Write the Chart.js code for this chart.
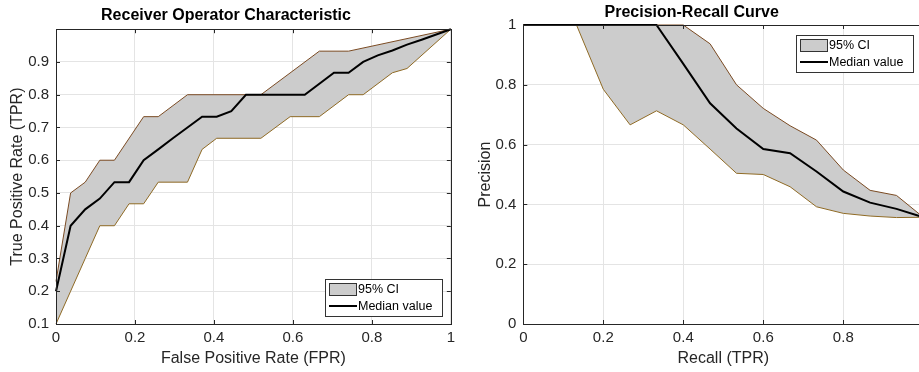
<!DOCTYPE html>
<html>
<head>
<meta charset="utf-8">
<script src="https://cdn.jsdelivr.net/npm/chart.js@4.4.1/dist/chart.umd.min.js"></script>
<style>
    html, body { margin: 0; padding: 0; background: #fff; overflow: hidden; }
    #wrap { position: relative; width: 919px; height: 372px; overflow: hidden; }
    #rocChart { position: absolute; left: 0; top: 0; }
    #prChart { position: absolute; left: 460px; top: 0; }
</style>
</head>
<body>
<div id="wrap">
    <canvas id="rocChart" width="460" height="372"></canvas>
    <canvas id="prChart" width="470" height="372"></canvas>
</div>
<script>
// ROC curve - upper / lower bound of the 95% CI and the median
const rocFprUpper = [0, 0.037, 0.074, 0.111, 0.148, 0.222, 0.259, 0.333, 0.519, 0.667, 0.741, 1];
const rocTprUpper = [0.23, 0.5, 0.533, 0.6, 0.6, 0.733, 0.733, 0.8, 0.8, 0.933, 0.933, 1];
const rocFprLower = [0, 0.037, 0.074, 0.111, 0.148, 0.185, 0.222, 0.259, 0.333, 0.370, 0.407, 0.519, 0.593, 0.667, 0.741, 0.778, 0.852, 0.889, 1];
const rocTprLower = [0.1, 0.2, 0.3, 0.4, 0.4, 0.467, 0.467, 0.533, 0.533, 0.633, 0.667, 0.667, 0.733, 0.733, 0.8, 0.8, 0.867, 0.88, 1];
const rocFprMedian = [0, 0.037, 0.074, 0.111, 0.148, 0.185, 0.222, 0.259, 0.296, 0.333, 0.370, 0.407, 0.444, 0.481, 0.630, 0.704, 0.741, 0.778, 0.815, 0.852, 0.889, 0.926, 1];
const rocTprMedian = [0.2, 0.4, 0.45, 0.483, 0.533, 0.533, 0.6, 0.633, 0.667, 0.7, 0.733, 0.733, 0.75, 0.8, 0.8, 0.867, 0.867, 0.9, 0.92, 0.935, 0.953, 0.968, 1];

// Precision-recall curve, all three series share the recall grid
const prRecall = [0, 0.067, 0.133, 0.2, 0.267, 0.333, 0.4, 0.467, 0.533, 0.6, 0.667, 0.733, 0.8, 0.867, 0.933, 1];
const prUpper = [1, 1, 1, 1, 1, 1, 1, 0.937, 0.8, 0.721, 0.663, 0.615, 0.515, 0.447, 0.43, 0.357];
const prMedian = [1, 1, 1, 1, 1, 1, 0.87, 0.738, 0.654, 0.585, 0.571, 0.51, 0.443, 0.406, 0.385, 0.357];
const prLower = [1, 1, 1, 0.785, 0.666, 0.713, 0.666, 0.585, 0.504, 0.5, 0.459, 0.392, 0.37, 0.361, 0.356, 0.357];

// Tick labels (the PR plot is cut off just before recall = 1)
const rocXTicks = [0, 0.2, 0.4, 0.6, 0.8, 1];
const rocYTicks = [0.1, 0.2, 0.3, 0.4, 0.5, 0.6, 0.7, 0.8, 0.9];
const prXTicks = [0, 0.2, 0.4, 0.6, 0.8];
const prYTicks = [0, 0.2, 0.4, 0.6, 0.8, 1];

const FONT = "'Liberation Sans', Arial, Helvetica, sans-serif";
const AXIS_COLOR = '#262626';

Chart.defaults.font.family = FONT;
Chart.defaults.color = AXIS_COLOR;

function toPoints(xs, ys) {
    return xs.map((x, i) => ({ x: x, y: ys[i] }));
}

// Box, inward ticks and the legend, drawn the MATLAB way
const matlabFrame = {
    id: 'matlabFrame',
    afterDatasetsDraw(chart, args, opts) {
        const { ctx, chartArea: a } = chart;
        const xs = chart.scales.x, ys = chart.scales.y;
        const tl = 4;
        ctx.save();
        ctx.strokeStyle = AXIS_COLOR;
        ctx.lineWidth = 1;
        ctx.beginPath();
        xs.ticks.forEach(t => {
            const px = Math.round(xs.getPixelForValue(t.value)) + 0.5;
            ctx.moveTo(px, a.bottom); ctx.lineTo(px, a.bottom - tl);
            ctx.moveTo(px, a.top); ctx.lineTo(px, a.top + tl);
        });
        ys.ticks.forEach(t => {
            const py = Math.round(ys.getPixelForValue(t.value)) + 0.5;
            ctx.moveTo(a.left, py); ctx.lineTo(a.left + tl, py);
            ctx.moveTo(a.right, py); ctx.lineTo(a.right - tl, py);
        });
        ctx.stroke();
        ctx.strokeRect(Math.round(a.left) + 0.5, Math.round(a.top) + 0.5,
            Math.round(a.right - a.left), Math.round(a.bottom - a.top));

        // legend
        const w = 117, h = 37;
        const lx = Math.round(a.right - opts.dx - w);
        const ly = Math.round(opts.corner === 'bottom' ? a.bottom - opts.dy - h : a.top + opts.dy);
        const ds = chart.data.datasets;
        ctx.fillStyle = '#fff';
        ctx.fillRect(lx, ly, w, h);
        ctx.strokeStyle = '#333';
        ctx.strokeRect(lx + 0.5, ly + 0.5, w, h);
        ctx.fillStyle = ds[0].backgroundColor;
        ctx.fillRect(lx + 4.5, ly + 4.5, 27, 12);
        ctx.strokeRect(lx + 4.5, ly + 4.5, 27, 12);
        ctx.strokeStyle = ds[2].borderColor;
        ctx.lineWidth = 2;
        ctx.beginPath();
        ctx.moveTo(lx + 4, ly + 27);
        ctx.lineTo(lx + 32, ly + 27);
        ctx.stroke();
        ctx.fillStyle = '#000';
        ctx.font = '12.5px ' + FONT;
        ctx.textBaseline = 'middle';
        ctx.fillText(ds[0].label, lx + 33, ly + 11);
        ctx.fillText(ds[2].label, lx + 33, ly + 27.5);
        ctx.restore();
    }
};

function makeChart(id, setup) {
    const ctx = document.getElementById(id).getContext('2d');
    return new Chart(ctx, {
        type: 'line',
        data: {
            datasets: [{
                label: '95% CI',
                data: setup.upper,
                borderColor: '#7a4a22',
                borderWidth: 1,
                backgroundColor: '#cccccc',
                fill: '+1',
                pointRadius: 0,
                clip: false,
                order: 1
            }, {
                label: 'lower',
                data: setup.lower,
                borderColor: '#8f6a24',
                borderWidth: 1,
                fill: false,
                pointRadius: 0,
                clip: false,
                order: 1
            }, {
                label: 'Median value',
                data: setup.median,
                borderColor: '#000000',
                borderWidth: 2,
                fill: false,
                pointRadius: 0,
                clip: false,
                order: 0
            }]
        },
        options: {
            responsive: false,
            animation: false,
            events: [],
            layout: { padding: { left: 0, right: setup.padRight, top: 0, bottom: 0 } },
            plugins: {
                legend: { display: false },
                tooltip: { enabled: false },
                filler: { drawTime: 'beforeDatasetsDraw' },
                title: {
                    display: true,
                    text: setup.title,
                    color: '#000',
                    font: { size: 16, weight: 'bold' },
                    padding: setup.titlePad
                },
                matlabFrame: setup.legend
            },
            scales: {
                x: {
                    type: 'linear',
                    min: setup.xMin, max: setup.xMax,
                    afterBuildTicks: s => { s.ticks = setup.xTicks.map(v => ({ value: v })); },
                    afterFit: s => { s.height = 48; },
                    grid: { color: '#e4e4e4', drawTicks: false },
                    border: { display: false },
                    ticks: { font: { size: 15 }, padding: 5, callback: v => String(v), maxRotation: 0 },
                    title: {
                        display: true, text: setup.xTitle,
                        font: { size: 16 }, padding: { top: 0, bottom: 3.4 }
                    }
                },
                y: {
                    type: 'linear',
                    min: setup.yMin, max: setup.yMax,
                    afterBuildTicks: s => { s.ticks = setup.yTicks.map(v => ({ value: v })); },
                    afterFit: s => { s.width = setup.yWidth; },
                    grid: { color: '#e4e4e4', drawTicks: false },
                    border: { display: false },
                    ticks: { font: { size: 15 }, padding: 7, callback: v => String(v) },
                    title: {
                        display: true, text: setup.yTitle,
                        font: { size: 16 }, padding: { top: setup.yTitlePad, bottom: 0 }
                    }
                }
            }
        },
        plugins: [matlabFrame]
    });
}

makeChart('rocChart', {
    title: 'Receiver Operator Characteristic',
    titlePad: { top: 6, bottom: 4 },
    upper: toPoints(rocFprUpper, rocTprUpper),
    lower: toPoints(rocFprLower, rocTprLower),
    median: toPoints(rocFprMedian, rocTprMedian),
    xMin: 0, xMax: 1, yMin: 0.1, yMax: 1,
    xTicks: rocXTicks, yTicks: rocYTicks,
    xTitle: 'False Positive Rate (FPR)',
    yTitle: 'True Positive Rate (TPR)',
    yWidth: 56, yTitlePad: 8.4, padRight: 8,
    legend: { corner: 'bottom', dx: 9, dy: 8 }
});

makeChart('prChart', {
    title: 'Precision-Recall Curve',
    titlePad: { top: 3, bottom: 2.8 },
    upper: toPoints(prRecall, prUpper),
    lower: toPoints(prRecall, prLower),
    median: toPoints(prRecall, prMedian),
    xMin: 0, xMax: 1, yMin: 0, yMax: 1,
    xTicks: prXTicks, yTicks: prYTicks,
    xTitle: 'Recall (TPR)',
    yTitle: 'Precision',
    yWidth: 63.3, yTitlePad: 16.4, padRight: 6.7,
    legend: { corner: 'top', dx: 10, dy: 10 }
});
</script>
</body>
</html>
